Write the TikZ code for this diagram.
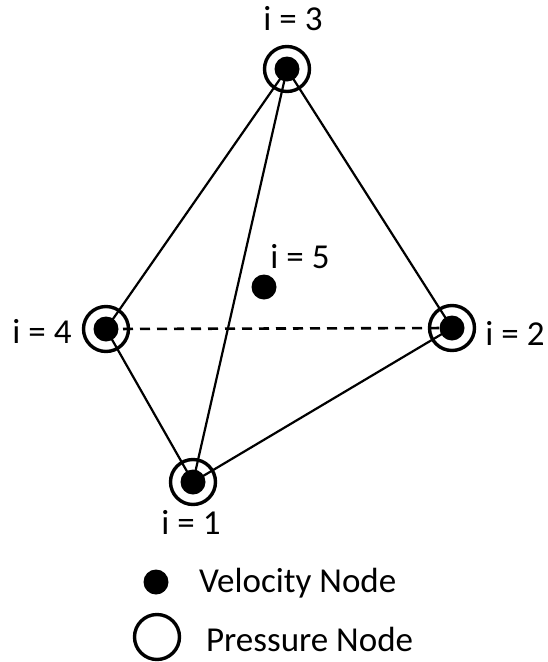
\documentclass[tikz,border=0pt]{standalone}
\usepackage{fontspec}
\setmainfont{Carlito}
\usetikzlibrary{positioning}
\tikzset{
  every picture/.style={line width=2.2pt, x=1pt, y=-1pt},
  vel/.style={circle, fill=black, inner sep=0pt, minimum size=25pt},
  pres/.style={circle, draw=black, inner sep=0pt, minimum size=45pt, line width=3.4pt},
  edge/.style={draw=black, line width=2.2pt},
  lab/.style={font=\fontsize{35}{40}\selectfont, inner sep=0pt},
}
\begin{document}
\begin{tikzpicture}
  \useasboundingbox (0,0) rectangle (547,662);
  % pressure rings
  \node[pres] (p3) at (287,69) {};
  \node[pres] (p4) at (106,329) {};
  \node[pres] (p2) at (452,328) {};
  \node[pres] (p1) at (193,482) {};
  % velocity nodes
  \node[vel] (v3) at (287,69) {};
  \node[vel] (v4) at (106,329) {};
  \node[vel] (v2) at (452,328) {};
  \node[vel] (v1) at (193,482) {};
  \node[vel] (v5) at (264,287) {};
  % edges
  \draw[edge] (v3.center) -- (v4.center);
  \draw[edge] (v3.center) -- (v2.center);
  \draw[edge] (v3.center) -- (v1.center);
  \draw[edge] (v4.center) -- (v1.center);
  \draw[edge] (v2.center) -- (v1.center);
  \draw[edge, line width=2.6pt, dash pattern=on 10pt off 7pt] (v4.center) -- (v2.center);
  % labels
  \node[lab] (l3) at (293,19) {i = 3};
  \node[lab] (l5) at (300,257) {i = 5};
  \node[lab] (l4) at (42,331) {i = 4};
  \node[lab] (l2) at (515,333) {i = 2};
  \node[lab] (l1) at (191,522) {i = 1};
  % legend
  \node[vel] (kv) at (156,582) {};
  \node[pres] (kp) at (157,637) {};
  \node[lab, anchor=west] (tv) at (198,583) {Velocity Node};
  \node[lab, anchor=west] (tp) at (205,639) {Pressure Node};
\end{tikzpicture}
\end{document}
